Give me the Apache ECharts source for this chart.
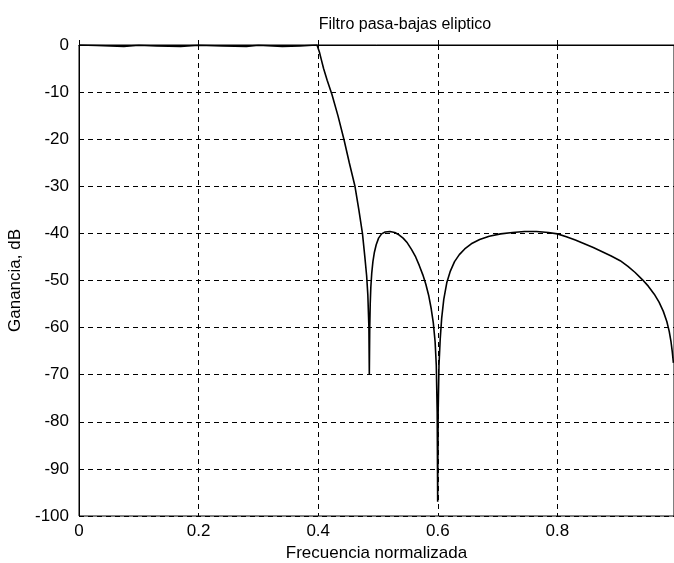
<!DOCTYPE html>
<html>
<head>
<meta charset="utf-8">
<script src="https://cdn.jsdelivr.net/npm/echarts@6/dist/echarts.min.js"></script>
<style>
  html, body { margin: 0; padding: 0; background: #fff; }
  #chart { width: 674px; height: 563px; }
</style>
</head>
<body>
<div id="chart"></div>
<script>
// Magnitude response of an elliptic low-pass filter (gain in dB vs normalised frequency)
const freq = [
  // passband
  0, 0.03, 0.075, 0.1, 0.13, 0.17, 0.2, 0.24, 0.28, 0.3, 0.34, 0.37, 0.39, 0.398,
  // transition band down to the first zero
  0.400, 0.402, 0.405, 0.409, 0.415, 0.423, 0.433, 0.443, 0.452, 0.4615, 0.468, 0.474, 0.478,
  0.481, 0.483, 0.4848, 0.4855,
  // first stopband lobe
  0.4862, 0.487, 0.488, 0.4895, 0.4915, 0.494, 0.497, 0.501, 0.506, 0.512, 0.52, 0.528, 0.535,
  0.542, 0.549, 0.556, 0.563, 0.569, 0.575, 0.58, 0.585, 0.589, 0.5925, 0.5955, 0.5975, 0.599,
  0.5998,
  // second stopband lobe
  0.6006, 0.602, 0.604, 0.6065, 0.61, 0.615, 0.621, 0.628, 0.636, 0.645, 0.656, 0.67, 0.686,
  0.705, 0.725, 0.745, 0.765, 0.785, 0.80, 0.815, 0.83, 0.845, 0.86, 0.875, 0.89, 0.905, 0.918,
  0.93, 0.942, 0.952, 0.962, 0.97, 0.977, 0.983, 0.987, 0.99, 0.992, 0.994
];
const gainDb = [
  0, -0.1, -0.3, -0.05, -0.2, -0.3, -0.05, -0.2, -0.3, -0.05, -0.3, -0.2, -0.05, 0,
  -0.3, -1.5, -3, -5, -7.5, -10.5, -15, -20, -25, -30, -35, -40, -45,
  -49, -53, -60, -70,
  -60, -55, -51.5, -48.5, -46, -44, -42.4, -41, -40.1, -39.7, -39.6, -39.8, -40.3,
  -41, -42, -43.4, -45, -46.8, -48.8, -50.8, -53.3, -56, -59, -63, -68, -78,
  -97,
  -78, -68, -62.5, -58, -54, -50.5, -48, -46, -44.5, -43.3, -42.2, -41.3, -40.6,
  -40.1, -39.8, -39.6, -39.6, -39.8, -40.1, -40.7, -41.4, -42.2, -43, -43.9, -44.8, -45.8, -47,
  -48.3, -49.8, -51.2, -52.9, -54.6, -56.5, -58.7, -60.8, -63, -65, -67.5
];
const xTicks = [0, 0.2, 0.4, 0.6, 0.8];
const yTicks = [0, -10, -20, -30, -40, -50, -60, -70, -80, -90, -100];

const FONT = '"Liberation Sans", Arial, sans-serif';
const gridDash = { color: '#000', width: 1, type: [5, 4] };

const chart = echarts.init(document.getElementById('chart'), null, { renderer: 'canvas' });
chart.setOption({
  backgroundColor: '#fff',
  animation: false,
  title: {
    text: 'Filtro pasa-bajas eliptico',
    left: 400, top: 12, textAlign: 'center',
    textStyle: { fontFamily: FONT, fontSize: 16, fontWeight: 'normal', color: '#000' }
  },
  grid: {
    left: 79, right: 0, top: 45, bottom: 47,
    outerBoundsMode: 'none',
    containLabel: false,
    show: true, borderColor: '#000', borderWidth: 1, backgroundColor: 'transparent'
  },
  xAxis: {
    type: 'value',
    min: xTicks[0], max: 0.995, interval: xTicks[1] - xTicks[0],
    name: 'Frecuencia normalizada', nameLocation: 'middle', nameGap: 27,
    nameTextStyle: { fontFamily: FONT, fontSize: 17, color: '#000' },
    axisLine: { show: true, lineStyle: { color: '#000', width: 1 } },
    axisTick: { show: true, inside: true, length: 5, lineStyle: { color: '#000' } },
    axisLabel: { fontFamily: FONT, fontSize: 17, color: '#000', margin: 7, showMaxLabel: false,
      formatter: v => String(+v.toFixed(1)) },
    splitLine: { show: true, lineStyle: gridDash }
  },
  yAxis: {
    type: 'value',
    min: yTicks[yTicks.length - 1], max: yTicks[0], interval: 10,
    name: 'Ganancia, dB', nameLocation: 'middle', nameGap: 50,
    nameTextStyle: { fontFamily: FONT, fontSize: 17, color: '#000' },
    axisLine: { show: true, lineStyle: { color: '#000', width: 1 } },
    axisTick: { show: true, inside: true, length: 5, lineStyle: { color: '#000' } },
    axisLabel: { fontFamily: FONT, fontSize: 17, color: '#000', margin: 10 },
    splitLine: { show: true, lineStyle: gridDash }
  },
  series: [{
    type: 'line',
    data: freq.map((f, i) => [f, gainDb[i]]),
    showSymbol: false,
    smooth: false,
    clip: true,
    lineStyle: { color: '#000', width: 1.6 }
  }]
});
</script>
</body>
</html>
